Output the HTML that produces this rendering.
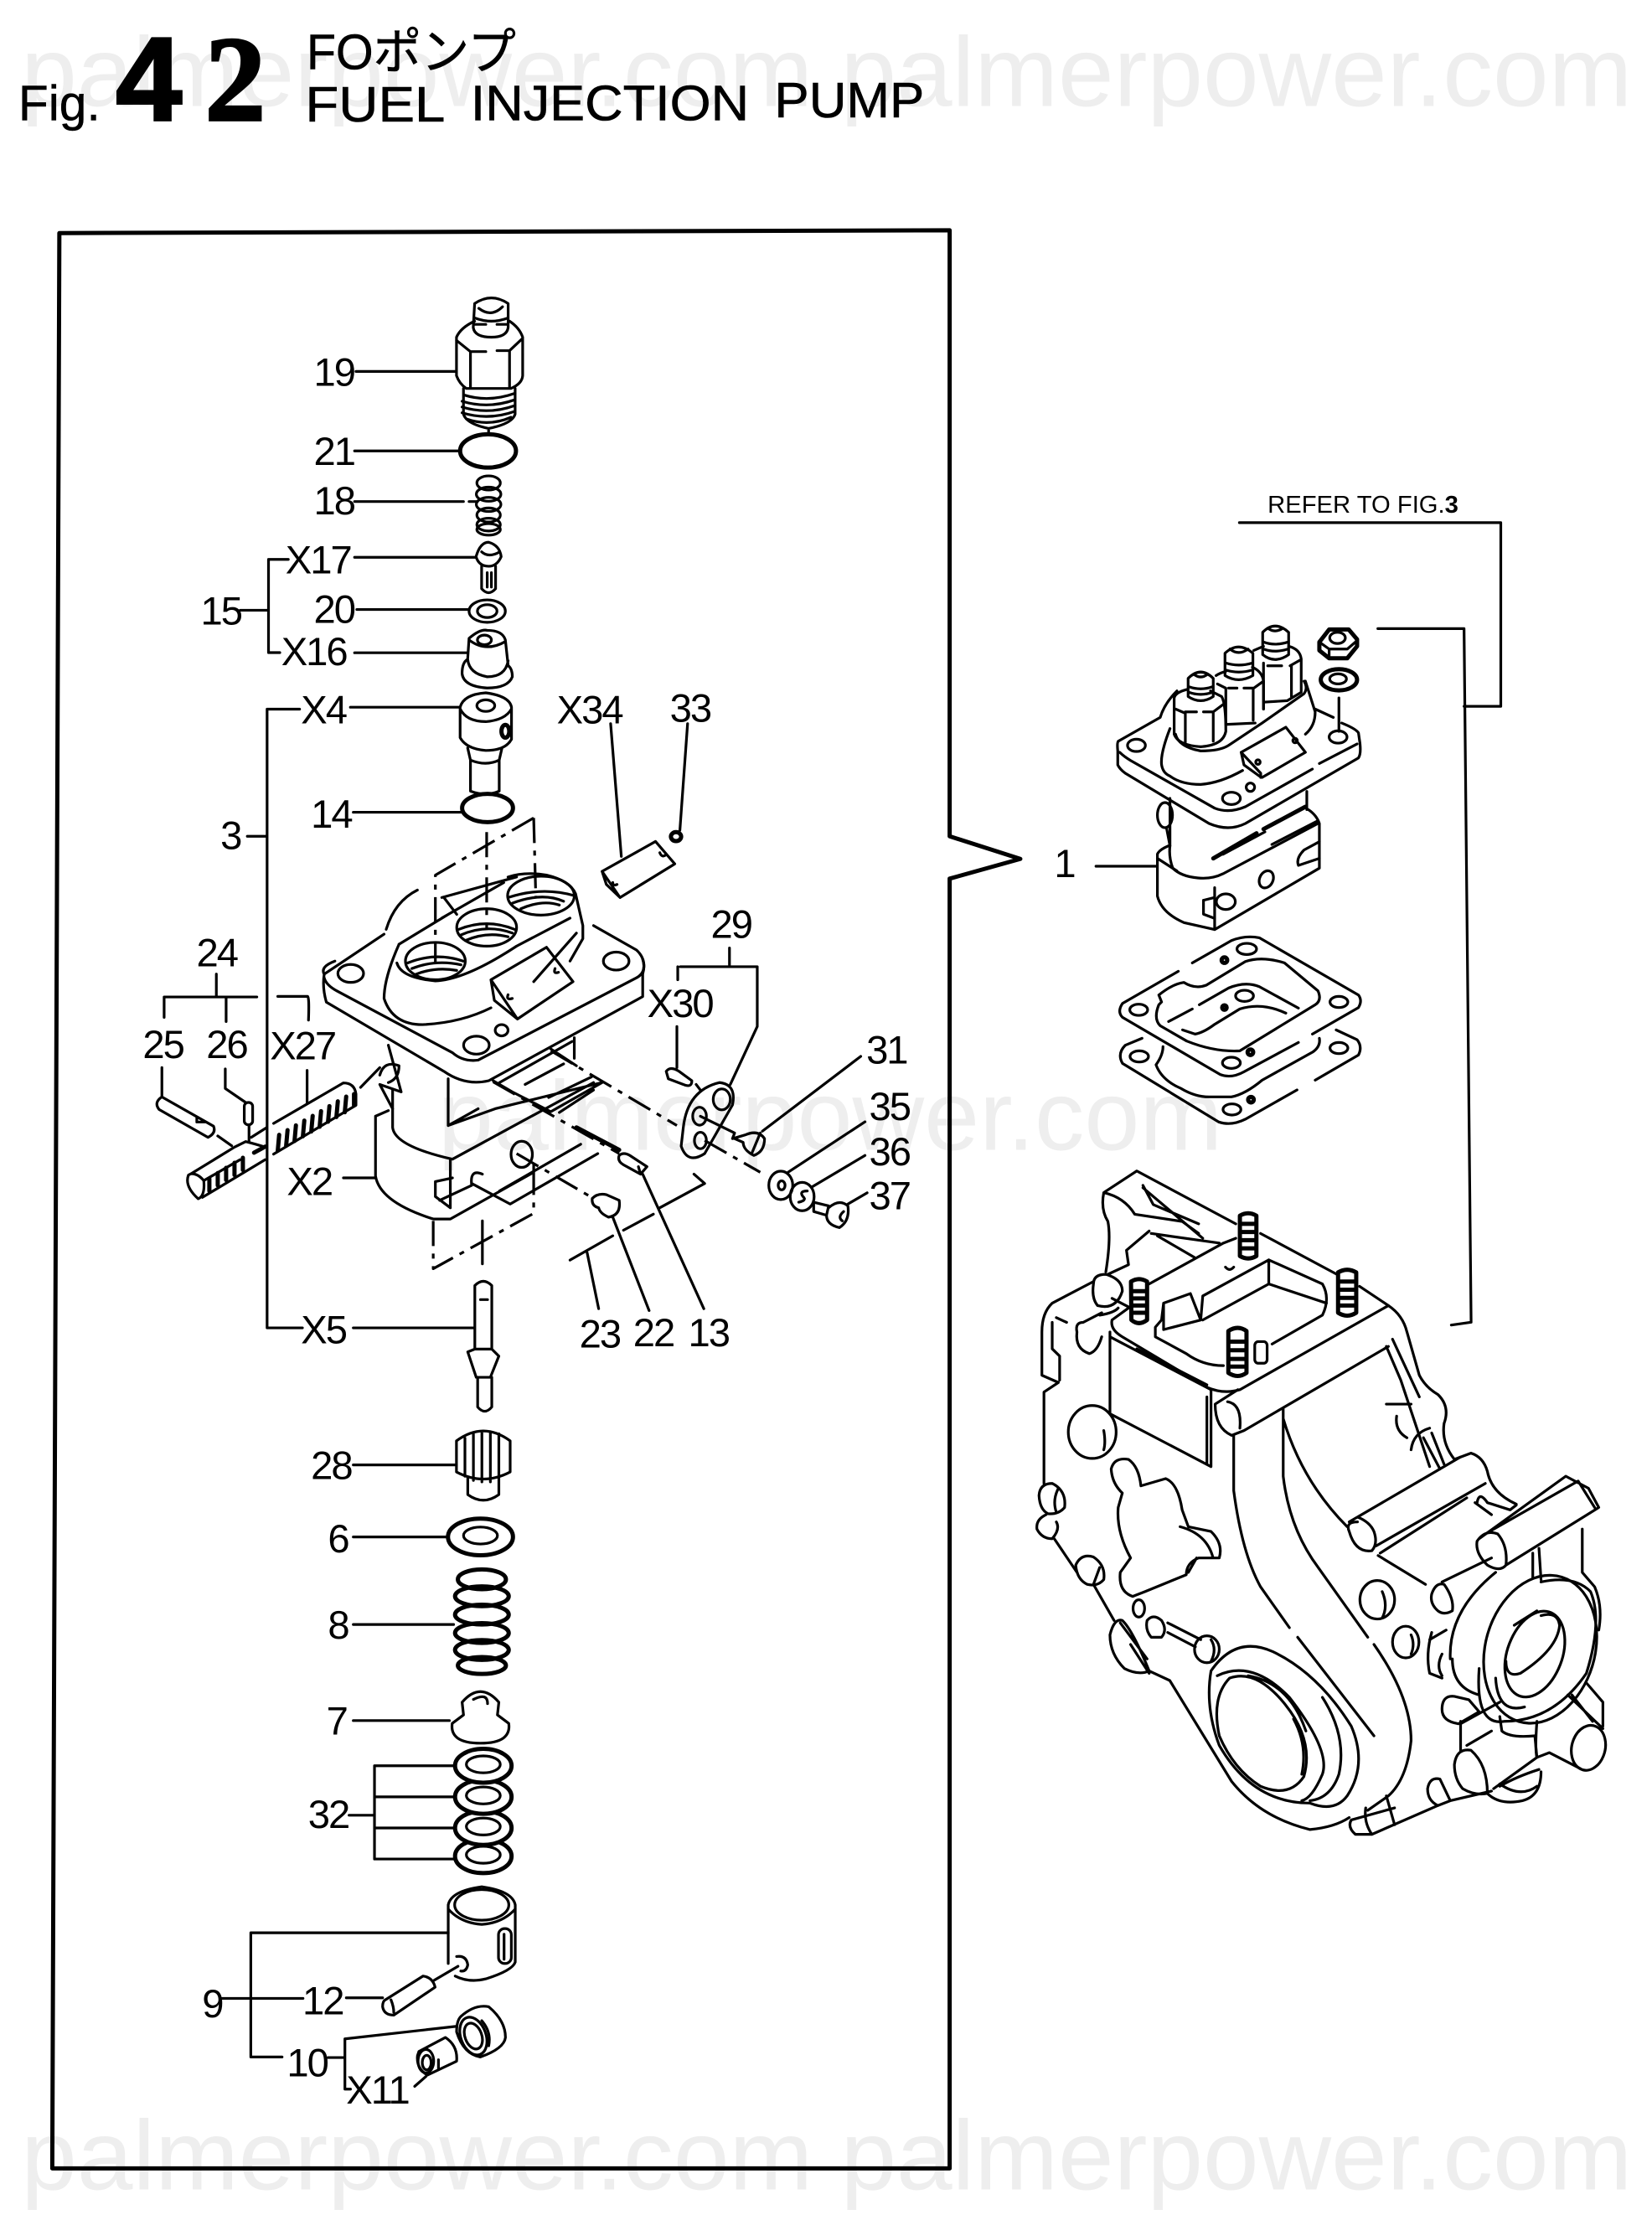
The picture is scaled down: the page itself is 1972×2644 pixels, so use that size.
<!DOCTYPE html>
<html><head><meta charset="utf-8">
<style>
html,body{margin:0;padding:0;background:#fff;width:1972px;height:2644px;overflow:hidden}
svg{display:block}
svg *{vector-effect:non-scaling-stroke}
.l path,.l line,.l ellipse,.l circle,.l polyline,.l rect,.l polygon{fill:none;stroke:#000;stroke-width:3.2;stroke-linecap:round;stroke-linejoin:round}
.l .w{fill:#fff}
.l .th{stroke-width:5}
.l .d{stroke-dasharray:30 9 6 9;stroke-linecap:butt}
text{font-family:"Liberation Sans","Noto Sans CJK JP",sans-serif;fill:#000}
.n text{font-size:28px;letter-spacing:-1.2px}
.wm text{fill:#eeeeee;font-size:70px}
</style></head><body>
<svg width="1972" height="2644" viewBox="0 0 1169 1568" preserveAspectRatio="none" xmlns="http://www.w3.org/2000/svg">
<g class="wm">
<text x="15" y="75" textLength="1140" lengthAdjust="spacingAndGlyphs">palmerpower.com palmerpower.com</text>
<text x="310" y="814" textLength="555" lengthAdjust="spacingAndGlyphs">palmerpower.com</text>
<text x="15" y="1550" textLength="1140" lengthAdjust="spacingAndGlyphs">palmerpower.com palmerpower.com</text>
</g>
<text x="13" y="85" font-size="35" textLength="58" lengthAdjust="spacingAndGlyphs" style="stroke:#000;stroke-width:.5">Fig.</text>
<text x="82" y="85" style='font-weight:bold;font-size:84px;stroke:#000;stroke-width:3'>4</text>
<text x="145" y="85" style='font-family:"Liberation Serif",serif;font-weight:bold;font-size:86px;stroke:#000;stroke-width:3'>2</text>
<g style="stroke:#000;stroke-width:.6">
<text x="217" y="49" font-size="35" textLength="148" lengthAdjust="spacingAndGlyphs">FOポンプ</text>
<text x="216" y="86" font-size="35" textLength="99" lengthAdjust="spacingAndGlyphs">FUEL</text>
<text x="333" y="85" font-size="35" textLength="197" lengthAdjust="spacingAndGlyphs">INJECTION</text>
<text x="548" y="83" font-size="35" textLength="106" lengthAdjust="spacingAndGlyphs">PUMP</text>
</g>

<g class="l">
<!-- frame -->
<polyline class="th" points="672,592 672,163 42,165 37,1535 672,1535 672,622 722,608 672,592"/>
<!-- leaders -->
<path d="M170 432H190M204 396H190V462H198M212 502H189V940H214M175 592H189
M250 575H326
M250 940H335M250 1037H323M250 1088H316M250 1150H321M250 1218H318
M323 1250H265V1316H323M265 1272H325M265 1294H325M247 1285H265"/>
<ellipse class="th" cx="345" cy="572" rx="18" ry="10"/>
<!-- 5 -->
<path d="M336 910Q342 904 348 910V955H336ZM331 957L336 955H348L353 960L347 975H337ZM338 975V996Q343 1002 348 996V975M340 920H345"/>
<!-- 28 -->
<path d="M323 1020Q342 1006 361 1020V1042Q342 1052 323 1042ZM329 1018V1045M335 1015V1048M341 1014V1049M347 1014V1049M353 1015V1047M331 1046V1058Q342 1066 353 1058V1046"/>
<!-- 6 -->
<ellipse class="th" cx="340" cy="1088" rx="23" ry="13"/><ellipse cx="340" cy="1087" rx="12" ry="6"/>
<!-- 8 -->
<ellipse class="th" cx="341" cy="1118" rx="17" ry="7"/><ellipse class="th" cx="341" cy="1130" rx="19" ry="7"/><ellipse class="th" cx="341" cy="1143" rx="19" ry="7"/><ellipse class="th" cx="341" cy="1156" rx="19" ry="7"/><ellipse class="th" cx="341" cy="1168" rx="19" ry="7"/><ellipse class="th" cx="341" cy="1179" rx="17" ry="6"/>
<!-- 7 -->
<path d="M327 1205Q340 1190 353 1205L352 1214L360 1220Q362 1234 340 1234Q318 1234 320 1220L328 1214Z"/><path d="M335 1203Q345 1198 345 1206"/>
<!-- 32 -->
<ellipse class="th w" cx="342" cy="1314" rx="20" ry="12"/><ellipse cx="342" cy="1313" rx="12" ry="6"/>
<ellipse class="th w" cx="342" cy="1294" rx="20" ry="12"/><ellipse cx="342" cy="1293" rx="12" ry="6"/>
<ellipse class="th w" cx="342" cy="1272" rx="20" ry="12"/><ellipse cx="342" cy="1271" rx="12" ry="6"/>
<ellipse class="th w" cx="342" cy="1250" rx="20" ry="12"/><ellipse cx="342" cy="1249" rx="12" ry="6"/>
<!-- right brackets -->
<path d="M877 370H1062V500H1036M975 445H1036L1041 936L1027 938"/>
</g>

<!-- upper column parts -->
<g class="l" transform="translate(201.5 195.6) scale(.1976 .2268)">
<path d="M680 85Q740 50 800 85V160Q795 190 740 190Q680 190 675 160ZM695 100Q740 130 780 95M680 130Q740 150 800 130M680 150H720M760 150H800"/>
<path d="M680 140Q630 160 615 190V310Q625 335 650 350H810Q850 335 852 310V190Q840 160 805 140M615 200L665 235V345M665 235H720M760 232H805L850 195M805 232V345"/>
<path d="M640 350V430Q650 460 730 475Q815 460 825 430V350M640 370Q730 395 825 365M635 390Q730 415 825 385M635 408Q730 433 825 403M635 426Q730 451 825 421M650 445Q730 470 810 440M730 475V490"/>
<path d="M255 297H610M250 545H625M250 703H640M660 703H690M250 877H685M258 1040H660M250 1175H655M235 1345H625"/>
<ellipse class="th" cx="728" cy="545" rx="100" ry="52"/>
<ellipse cx="730" cy="645" rx="42" ry="22"/><ellipse cx="730" cy="680" rx="44" ry="22"/><ellipse cx="730" cy="712" rx="44" ry="22"/><ellipse cx="730" cy="745" rx="42" ry="22"/><ellipse cx="730" cy="775" rx="42" ry="20"/><ellipse cx="730" cy="790" rx="42" ry="18"/>
<path d="M685 875Q700 830 730 830Q770 840 775 875Q760 905 730 905Q695 905 685 875ZM705 905V975Q730 1000 755 975V905M725 925V970M740 925V970M705 860Q730 880 770 860"/>
<ellipse cx="725" cy="1045" rx="65" ry="35"/><ellipse cx="725" cy="1045" rx="35" ry="20"/>
<path d="M660 1130Q700 1100 725 1105Q780 1105 790 1135L800 1215Q815 1225 815 1250Q800 1285 725 1285Q640 1280 635 1240Q635 1205 655 1195ZM660 1135Q720 1175 790 1140M655 1195Q660 1240 725 1250Q790 1250 800 1200"/><ellipse cx="715" cy="1135" rx="25" ry="15"/>
<path d="M628 1345Q640 1305 720 1300Q805 1310 812 1345V1445Q790 1480 720 1480Q650 1475 628 1440ZM628 1350Q650 1390 720 1390Q790 1385 812 1350"/><ellipse cx="720" cy="1340" rx="32" ry="18"/><ellipse class="th" cx="790" cy="1420" rx="14" ry="20"/>
<path d="M655 1472L665 1510V1607Q720 1625 768 1607V1510L778 1472M665 1510Q720 1530 768 1510"/>
</g>

<!-- 24 group rods -->
<g class="l" transform="translate(94.8 652) scale(.1976)">
<path d="M295 190V270M108 345V272H440M515 270H622Q628 272 625 355M330 272V360M100 525V630"/>
<path d="M100 630L285 735Q295 760 265 775L90 675Q70 650 100 630ZM225 705V720L255 720M327 530V600L400 650"/>
<rect x="395" y="650" width="30" height="80" rx="14"/>
<path d="M412 730V790M300 770L350 805M620 535V650"/>
<path d="M205 905L360 810L400 790Q440 800 470 810M195 910Q180 950 230 995Q255 985 250 930Q230 905 205 905ZM250 930L380 855M245 990L470 855M420 775L475 740"/>
<path class="th" d="M270 923V967M300 903V947M330 884V928M360 866V910M390 848V892M430 830L470 808"/>
<path d="M500 725L750 580Q790 580 795 620V660L500 835"/>
<path class="th" d="M520 766L515 822M550 749L545 805M580 732L575 788M610 715L605 771M640 698L635 754M670 681L665 737M700 663L695 719M730 646L725 702M760 629L755 685M788 620V660"/>
</g>

<!-- bottom parts -->
<g class="l" transform="translate(142.3 1304) scale(.1976)">
<path d="M885 225Q895 175 1005 160Q1115 175 1125 225V430Q1115 460 1020 490Q960 505 910 480M885 225V435M885 240Q930 290 1005 295Q1080 290 1125 240"/>
<ellipse cx="1005" cy="225" rx="97" ry="55"/>
<rect x="1065" y="310" width="46" height="125" rx="22"/><path d="M1085 330V420"/>
<path d="M915 410Q950 405 955 440Q950 465 930 462M920 445L835 495"/>
<path d="M660 565L795 480Q830 485 838 520L690 620Q655 620 650 590Q650 570 660 565ZM680 565Q690 590 690 610M520 558H650"/>
<path d="M885 325H178V770H290M75 560H365M455 772H510M915 660L515 705V885H535M765 875L805 840"/>
<path d="M930 625Q980 580 1030 590Q1090 640 1090 700Q1085 740 1000 770Q940 760 915 680Q915 640 930 625ZM1005 640Q1040 680 1030 730"/>
<ellipse cx="975" cy="695" rx="45" ry="70" transform="rotate(-20 975 695)"/><ellipse cx="975" cy="695" rx="30" ry="48" transform="rotate(-20 975 695)"/>
<path d="M780 750L875 700Q920 730 915 785L810 835Q770 810 775 765ZM850 780V810"/>
<ellipse cx="805" cy="785" rx="28" ry="42"/><ellipse cx="808" cy="790" rx="16" ry="26"/>
</g>

<!-- assembled pump -->
<g class="l" transform="translate(770.6 415) scale(.1976)">
<path d="M105 555L255 470Q270 420 315 375M105 555Q100 560 103 590V640Q110 655 130 670L430 850Q500 880 560 850L965 615Q975 600 970 560L965 525Q955 510 905 490M810 440L875 470M775 340L810 450Q810 500 775 530"/>
<path d="M110 595Q125 610 150 625L450 795Q500 815 560 790L800 655M825 635L960 565"/>
<path d="M290 510Q255 600 260 640Q265 670 290 680Q330 710 400 710Q470 705 550 660"/>
<path d="M310 530Q320 575 400 590Q470 590 500 570L620 490L770 385Q785 365 770 340"/>
<path d="M305 400Q310 380 350 370M435 375L475 395Q490 420 490 520Q480 570 400 575Q320 570 305 530V400M310 440L345 455V560M345 450H385M410 450H445L485 420M445 450V555"/>
<path d="M355 330Q400 285 445 330V395Q400 425 355 395ZM375 315Q400 335 425 315M358 360Q400 375 442 360M358 380Q400 395 442 380"/>
<path d="M455 320Q470 310 490 305M585 290Q620 305 625 340V440M595 490L490 495M460 350L490 365V495M500 365H530M555 365H590L625 340M588 370V480"/>
<path d="M487 240Q535 195 587 240V320Q535 350 487 320ZM505 225Q535 250 570 225M490 275Q535 290 585 275M490 300Q535 315 585 300"/>
<path d="M590 230L625 215M715 215Q755 225 760 260V380L710 410L630 415M625 275V440M640 285H690M720 285L755 265M725 285V395"/>
<path d="M622 165Q665 120 715 165V245Q665 280 622 245ZM640 150Q665 170 695 150M625 200Q665 215 712 200M625 225Q665 240 712 225"/>
<path class="w" d="M545 595L705 505L775 595L620 685L610 680L555 640Z"/>
<path d="M545 595L615 670V685"/>
<circle cx="605" cy="630" r="8"/><circle cx="738" cy="553" r="8"/>
<ellipse cx="170" cy="570" rx="32" ry="22"/><ellipse cx="892" cy="540" rx="32" ry="22"/><ellipse cx="510" cy="760" rx="32" ry="22"/><circle cx="578" cy="720" r="15"/>
<path class="th" d="M825 200L860 155H930L960 190V215L925 258H860L825 230Z"/>
<path d="M825 200L860 225V250M860 225H925L960 195"/>
<ellipse cx="890" cy="185" rx="28" ry="20"/>
<ellipse class="th" cx="895" cy="335" rx="65" ry="38"/><ellipse cx="892" cy="332" rx="30" ry="18"/>
<path d="M895 400V520"/>
<path d="M290 760V930Q285 970 300 1010Q330 1040 390 1045Q440 1050 480 1030L820 850M780 735V800M480 960L630 880M655 925L820 840"/>
<path class="th" d="M445 975L600 885M625 870L775 790"/>
<path d="M245 960Q250 945 285 930M245 960V1110Q260 1170 340 1205L450 1230L825 1010V850Q815 820 785 800M245 975L315 1020M450 1080V1230"/>
<ellipse cx="635" cy="1050" rx="24" ry="32" transform="rotate(25 635 1050)"/>
<path d="M825 915L770 945Q740 975 750 1000L825 975"/>
<ellipse cx="490" cy="1130" rx="34" ry="28"/>
<path d="M410 1125V1175L450 1190M410 1125L450 1115"/>
<ellipse cx="272" cy="820" rx="27" ry="45"/>
<path d="M278 868L290 930M25 1003H240"/>
</g>

<!-- gaskets -->
<g class="l" transform="translate(770.6 652) scale(.1976)">
<path d="M320 180L120 295Q100 325 120 345L470 550Q510 565 555 540L750 435M800 405L965 310Q980 285 965 265L610 60Q560 50 510 70L370 150"/>
<ellipse cx="565" cy="100" rx="35" ry="20"/><ellipse cx="895" cy="290" rx="32" ry="20"/><ellipse cx="178" cy="318" rx="32" ry="20"/><ellipse cx="510" cy="508" rx="32" ry="20"/><ellipse cx="557" cy="268" rx="32" ry="20"/>
<circle class="th" cx="485" cy="140" r="10"/><circle class="th" cx="485" cy="310" r="8"/><circle class="th" cx="578" cy="470" r="10"/>
<path d="M250 265Q300 225 340 220Q380 245 420 230L560 145Q620 125 700 150L820 250Q835 285 810 300L540 465Q450 470 350 430L255 375Q230 350 250 300L260 290Z"/>
<path d="M285 360L370 315M395 300L500 240Q560 215 610 235L750 312M335 390L380 405Q410 400 450 370L540 315Q620 290 705 330"/>
<path d="M190 420L130 445Q100 475 120 510L465 720Q510 735 560 710L745 605M810 570L965 480Q980 450 960 425L885 390"/>
<ellipse cx="180" cy="485" rx="33" ry="20"/><ellipse cx="895" cy="455" rx="32" ry="20"/><ellipse cx="512" cy="675" rx="32" ry="20"/>
<circle class="th" cx="580" cy="640" r="10"/>
<path d="M265 450Q265 480 240 515Q260 570 330 600Q380 630 430 630H510Q560 620 620 570L800 470Q830 450 825 420"/>
</g>

<!-- pump body, exploded -->
<g class="l" transform="translate(178 533.5) scale(.3025 .2646)">
<path class="d" d="M660 172L430 325V560M660 172L665 385M550 210V470"/>
<path d="M315 470Q335 395 388 365M445 385L620 330M450 385L480 430M445 440L590 345M345 510L460 430"/>
<path d="M600 330Q640 315 690 325Q745 340 758 375L775 460V495L745 555M800 460L900 525Q925 550 915 590V650L555 875Q500 890 450 850L175 665Q165 625 170 590L310 483"/>
<path d="M170 590Q160 570 195 555M170 600Q175 620 200 635L470 800Q495 825 530 820L900 600Q925 585 915 550"/>
<path d="M345 510Q310 600 310 655Q330 725 400 725Q490 720 560 680"/>
<ellipse cx="430" cy="555" rx="70" ry="50"/><ellipse cx="550" cy="465" rx="70" ry="50"/><ellipse cx="677" cy="380" rx="78" ry="52"/>
<path d="M365 560Q430 530 495 555M375 575Q430 550 490 565M385 590Q430 570 480 580M485 470Q550 440 615 470M490 485Q550 455 610 480M500 500Q550 475 600 490M600 385Q680 355 755 380M610 400Q680 370 730 395M630 415Q680 390 720 405"/>
<path d="M340 560Q350 600 430 608Q500 605 620 515L745 440"/>
<path d="M560 605L690 518L752 610L622 710ZM560 605L568 660L622 710"/>
<path d="M710 575Q705 590 718 585M600 645Q595 660 610 655M660 610L760 480"/>
<ellipse cx="232" cy="588" rx="30" ry="24"/><ellipse cx="853" cy="555" rx="30" ry="24"/><ellipse cx="526" cy="780" rx="30" ry="24"/><circle cx="585" cy="740" r="15"/>
<!-- tag 34 and 33 -->
<path d="M840 -80L865 275M820 315L945 235L990 295L862 385ZM820 315L830 350L862 385M1020 -80L1002 205"/>
<circle class="th" cx="993" cy="222" r="12"/>
<path d="M955 265Q960 280 970 270M845 345Q845 355 855 350"/>
<!-- body below flange -->
<path d="M460 870V995L570 950L820 880M460 995L530 950M565 875L610 905L700 958L820 880M580 880L750 770M640 885L730 830M695 920L795 865M720 960L800 900M700 790L760 835M755 760V815M320 780L350 905L300 885L330 950M300 860Q310 820 345 835Q345 870 320 880"/>
<path class="d" d="M700 795L995 995M565 878L860 1070M425 1250V1378L660 1230V1120M620 1070L800 1190M1060 1035L1190 1120"/>
<path d="M330 900V1000Q335 1050 470 1085L800 880M290 970L320 955M290 970V1130Q300 1200 425 1245H465L660 1120V1100M465 1085V1215M290 1135L215 1135M430 1145V1185L465 1215M430 1145L470 1135M440 1195L515 1155Q510 1110 540 1125M515 1150L605 1205L810 1070M580 1170L770 1045"/>
<ellipse cx="632" cy="1072" rx="25" ry="35"/><path d="M540 1250V1365"/>
<!-- 13 pin -->
<path class="th" d="M760 1000L860 1060"/>
<path d="M860 1075Q870 1065 885 1075L925 1105L910 1125L870 1100Q855 1090 860 1075ZM905 1105L910 1125M915 1125Q960 1240 1058 1485"/>
<!-- 22 plug -->
<path d="M797 1190Q810 1175 830 1180L860 1195Q865 1235 835 1240Q815 1230 812 1215Q795 1210 797 1190ZM845 1240L930 1490"/>
<!-- 23 wire -->
<path d="M745 1355L845 1290M870 1275L940 1232M955 1215L1060 1150L1035 1125"/>
<path d="M785 1335L812 1485M300 840L255 893"/>
<!-- 29 plate -->
<path d="M1003 570H1183V730L1120 885M997 570V605M1118 520V565M995 730V840"/>
<path d="M1010 1000Q1020 900 1095 880Q1135 885 1125 940L1060 1070Q1020 1100 1005 1050Z"/>
<ellipse cx="1100" cy="925" rx="20" ry="28"/><ellipse cx="1048" cy="970" rx="16" ry="24"/><ellipse cx="1050" cy="1035" rx="14" ry="22"/>
<path d="M970 850Q980 835 1000 850L1030 875Q1030 895 1010 885L975 870ZM1040 885L1050 900"/>
<!-- 31 -->
<path d="M1050 970L1130 1015L1125 1030L1155 1020Q1185 1005 1200 1030Q1200 1065 1175 1075Q1150 1060 1150 1040L1130 1030M1190 1015L1170 1070M1425 810L1195 1010"/>
<!-- 35 36 37 -->
<ellipse cx="1238" cy="1155" rx="28" ry="38"/><ellipse cx="1240" cy="1155" rx="8" ry="12"/>
<ellipse cx="1288" cy="1185" rx="28" ry="38"/><path d="M1300 1170Q1280 1170 1290 1185Q1300 1195 1280 1200"/>
<path d="M1315 1200L1350 1210L1345 1235L1315 1225ZM1350 1215Q1375 1190 1395 1210Q1400 1250 1375 1268Q1345 1260 1345 1235M1385 1225Q1370 1240 1382 1250M1255 1120L1435 985M1310 1160L1435 1075M1395 1205L1440 1175"/>
</g>

<!-- housing -->
<g class="l" transform="translate(711 800) scale(.2919 .3403)">
<path d="M240 130Q232 165 250 190Q258 225 245 295M240 130L320 85L560 195M240 130Q290 140 315 175L430 190L470 215M335 120L480 225M335 115L360 155L470 195"/>
<path d="M620 215L805 300M860 325L930 365Q965 385 975 420L1005 510Q1020 535 1050 550Q1080 575 1065 610Q1058 650 1090 685L1130 672Q1160 680 1170 710Q1180 755 1240 778"/>
<path d="M350 210L295 250L300 280L250 300M355 215L520 235M370 220L460 265M350 320L530 235L560 225M300 370L260 395Q255 415 285 430L490 535Q530 550 570 540L930 365"/>
<path d="M215 315L115 360Q90 380 90 420V510L130 525L95 545V735M115 400V455L133 470V520M125 390L150 400"/>
<path d="M215 320Q215 300 245 300Q285 310 285 335Q270 375 225 365Q210 350 215 320ZM260 350L305 370M230 385Q265 380 275 370"/>
<path d="M175 420Q170 400 190 400L235 380M175 420Q170 455 205 465Q225 460 235 430"/>
<path d="M255 420V590L500 700V540L255 430M490 555V695M320 455L490 530"/>
<ellipse cx="212" cy="628" rx="58" ry="55"/><path d="M240 625Q245 650 240 665"/>
<path class="th" d="M306 315Q326 305 345 315V395Q325 408 307 395ZM308 335H345M308 350H345M308 365H345M308 380H345"/>
<path class="th" d="M570 178Q590 168 610 178V262Q590 272 570 262ZM570 195H610M570 212H610M570 229H610M570 246H610"/>
<path class="th" d="M808 296Q830 285 852 296V380Q830 392 808 380ZM808 315H852M808 332H852M808 349H852M808 365H852"/>
<path class="th" d="M542 418Q565 405 586 418V505Q565 518 542 505ZM542 440H586M542 458H586M542 476H586M542 492H586"/>
<rect x="606" y="440" width="30" height="45" rx="8"/>
<path d="M648 445L770 385Q790 350 770 320L640 270L480 345L475 395L450 340L385 360L380 395L365 410V430L440 465Q480 490 530 490M640 270V320L480 395M640 320L780 360M385 360L385 415L475 395M535 285Q545 295 555 285"/>
<path d="M565 540L510 570Q510 620 550 635L580 625L930 450M540 565Q575 570 570 620M925 450L960 520L1030 700M940 435L1005 555M925 570H985M950 595Q945 625 975 640M1030 620Q990 630 985 665M1015 640L1055 705M1035 630L1065 695"/>
<path d="M555 635V750Q575 880 620 950L690 1035M675 580V720Q690 830 760 910L880 1055M675 600Q720 730 830 825M710 1055L895 1260M895 1070Q985 1180 985 1270Q975 1350 930 1385L880 1415"/>
<path d="M835 815L1105 680M900 865L1165 735M855 815Q825 815 835 835Q850 880 890 875Q905 860 895 835Q885 815 855 805M910 880L1120 765M1145 775Q1150 750 1170 775L1225 790L1240 780M1140 775L1180 800"/>
<path d="M1150 850L1360 720L1415 745L1440 785L1215 905M1165 840L1390 730L1430 785M1145 855Q1140 880 1170 905Q1200 920 1215 905Q1220 865 1195 840Q1165 830 1145 855M1280 880V930M1295 870L1300 935M1400 830V920L1430 950Q1450 990 1440 1040"/>
<path d="M905 885L1020 945M1060 940L1180 890M1035 965Q1045 940 1065 945Q1090 975 1085 1000Q1065 1010 1050 1000Q1030 985 1035 965Z"/>
<ellipse cx="903" cy="977" rx="42" ry="40"/><path d="M915 960Q930 990 915 1015"/>
<ellipse cx="972" cy="1065" rx="32" ry="33"/><path d="M985 1050Q995 1070 985 1090"/>
<path d="M1035 1045Q1020 1090 1030 1130L1060 1140M1030 1060L1070 1040M1060 1090Q1045 1115 1060 1135"/>
<ellipse cx="1298" cy="1080" rx="130" ry="160" transform="rotate(28 1298 1080)"/>
<path d="M1150 1120Q1140 1240 1210 1230Q1330 1230 1410 1130Q1450 1020 1420 960Q1380 925 1300 940M1080 1100Q1075 1000 1190 920M1085 1100Q1085 1160 1150 1175"/>
<ellipse cx="1285" cy="1090" rx="65" ry="95" transform="rotate(28 1285 1090)"/>
<path d="M1215 1105Q1215 1140 1250 1130Q1340 1080 1345 1030Q1340 1000 1300 1010M1190 1140Q1195 1215 1260 1200M1235 1030L1290 1000"/>
<path d="M1060 1205Q1060 1175 1090 1178L1125 1185L1150 1210L1100 1235Q1060 1230 1060 1205ZM1105 1230V1290M1105 1235L1200 1190M1120 1280L1180 1250M1200 1220L1205 1250Q1225 1265 1285 1260L1290 1305L1185 1370"/>
<path d="M1090 1320Q1095 1285 1130 1290Q1170 1320 1170 1380Q1140 1385 1110 1370Q1090 1350 1090 1320Z"/>
<path d="M1290 1230Q1285 1290 1290 1305L1320 1295L1395 1328M1365 1175L1450 1245M1410 1150L1450 1190V1240M1375 1175L1425 1230"/>
<ellipse cx="1415" cy="1285" rx="40" ry="48" transform="rotate(25 1415 1285)"/>
<path d="M1170 1380Q1200 1405 1255 1395Q1300 1385 1300 1335M1200 1365Q1240 1345 1295 1330M1200 1360Q1250 1390 1290 1365"/>
<path d="M1025 1370Q1030 1345 1055 1350L1080 1395L1050 1405Q1025 1395 1025 1370ZM1080 1395L1180 1375"/>
<path d="M945 1410L840 1435Q830 1450 850 1465L890 1465L1050 1405M875 1410Q870 1440 890 1465M925 1385L945 1445"/>
<path d="M835 1430Q800 1450 740 1455Q620 1430 550 1355L400 1145L350 1125"/>
<path d="M500 1125Q560 1050 650 1085Q760 1130 840 1240Q880 1320 830 1385Q800 1420 740 1400Q600 1400 520 1280Q485 1200 500 1125Z"/>
<path d="M515 1135Q600 1100 690 1180Q790 1290 770 1340Q745 1390 720 1395M520 1260Q500 1180 545 1140Q610 1120 680 1195Q750 1270 725 1345Q690 1390 620 1365Q555 1330 520 1260ZM700 1225Q735 1280 720 1340M590 1135Q690 1150 730 1250M770 1180Q830 1260 810 1340Q790 1390 740 1395"/>
<path d="M83 760Q85 735 115 735Q150 750 145 785Q130 800 105 798Q85 790 83 760ZM130 745Q115 770 125 795M100 800Q75 810 78 830Q90 850 115 850Q135 830 125 815M120 850L175 920"/>
<path d="M172 905Q185 880 215 888Q245 905 240 935Q225 950 200 945Q175 935 172 905ZM215 945L265 1020M230 910L215 945"/>
<path d="M255 1050Q265 1015 285 1020Q310 1040 350 1125Q325 1135 290 1120Q255 1090 255 1050ZM280 1025L345 1100M305 1070L350 1130"/>
<path d="M258 705Q265 680 300 685Q325 700 330 740L390 725Q420 735 430 790L445 825L500 835Q530 860 520 890L470 890Q440 900 440 925L340 960L310 970Q275 960 280 920L305 890Q270 835 275 785L285 755Q260 735 258 705ZM425 825Q490 840 505 890M445 920L465 890"/>
<ellipse cx="325" cy="995" rx="14" ry="18"/>
<path d="M345 1020Q360 1005 380 1020Q395 1040 380 1055H355Q340 1040 345 1020ZM395 1025L475 1060M395 1045L462 1075"/>
<ellipse cx="490" cy="1080" rx="30" ry="28"/><path d="M500 1060Q515 1080 500 1105"/>
</g>

<g class="n">
<text x="222" y="273">19</text><text x="222" y="329">21</text><text x="222" y="364">18</text>
<text x="202" y="406">X17</text><text x="142" y="442">15</text><text x="222" y="441">20</text>
<text x="199" y="471">X16</text><text x="213" y="512">X4</text><text x="220" y="586">14</text>
<text x="156" y="601">3</text><text x="394" y="512">X34</text><text x="474" y="511">33</text>
<text x="139" y="684">24</text><text x="503" y="664">29</text>
<text x="101" y="749">25</text><text x="146" y="749">26</text><text x="191" y="750">X27</text>
<text x="458" y="720">X30</text><text x="613" y="753">31</text><text x="615" y="793">35</text>
<text x="615" y="825">36</text><text x="615" y="856">37</text><text x="203" y="846">X2</text>
<text x="410" y="954">23</text><text x="448" y="953">22</text><text x="487" y="953">13</text>
<text x="213" y="951">X5</text><text x="220" y="1047">28</text><text x="232" y="1099">6</text>
<text x="232" y="1160">8</text><text x="231" y="1228">7</text><text x="218" y="1294">32</text>
<text x="143" y="1428">9</text><text x="214" y="1426">12</text><text x="203" y="1470">10</text>
<text x="245" y="1489">X11</text><text x="746" y="621">1</text>
</g>
<text x="897" y="363" font-size="17" textLength="135" lengthAdjust="spacingAndGlyphs">REFER TO FIG.<tspan font-weight="bold">3</tspan></text>
</svg>
</body></html>
